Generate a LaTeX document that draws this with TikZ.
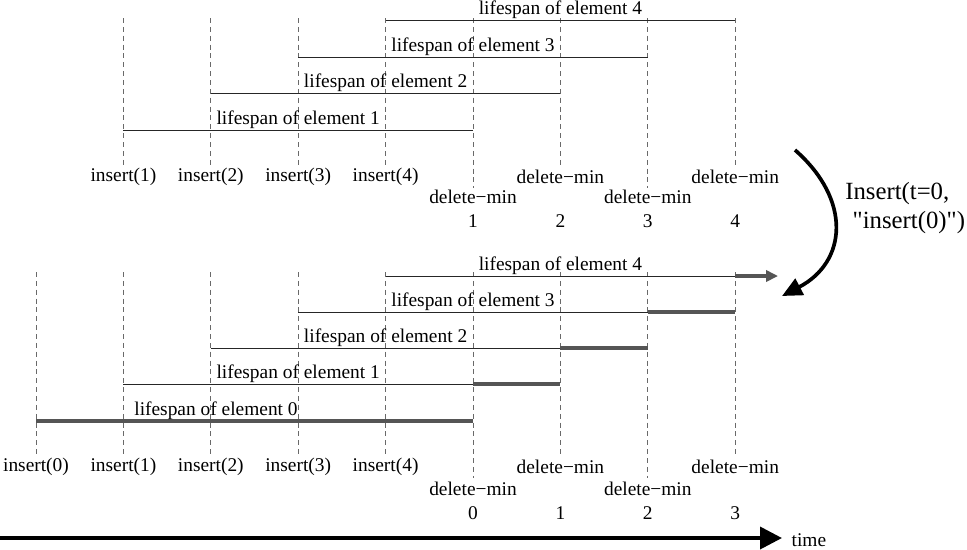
\documentclass[tikz,border=0pt]{standalone}
\usepackage{fontspec}
\setmainfont{Liberation Serif}
\usetikzlibrary{arrows.meta,positioning,calc}
\definecolor{guidegray}{RGB}{105,105,105}
\definecolor{extgray}{RGB}{85,85,85}
\tikzset{
  guide/.style={guidegray, dash pattern=on 3.5pt off 2.8pt, line width=0.5pt},
  life/.style={black!85, line width=0.7pt},
  ext/.style={extgray, line width=2.2pt},
  lbl/.style={font=\fontsize{13.8}{15}\selectfont, inner sep=1pt},
  biglbl/.style={font=\fontsize{17.6}{20.5}\selectfont, inner sep=0pt, align=left},
  timearr/.style={-{Triangle[length=5.5mm,width=5.5mm]}, line width=2.6pt},
  jumparr/.style={-{Triangle[length=5mm,width=4.5mm]}, line width=2.6pt},
  extarr/.style={-{Triangle[length=3mm,width=2.8mm]}, extgray, line width=2.2pt},
}
\begin{document}
\begin{tikzpicture}[x=0.025cm, y=-0.025cm]
  \useasboundingbox (0,0) rectangle (967,549);
  % time positions
  \foreach \i in {0,...,8}
    \coordinate (t\i) at ({36+87.4*\i},0);

  % upper chart
  \foreach \i/\e in {1/168,2/168,3/168,4/168,5/188,6/168,7/188,8/168}
    \draw[guide] (t\i |- 0,18) -- (t\i |- 0,\e);
  \foreach \k/\y [evaluate=\k as \e using int(\k+4)] in {1/130,2/93,3/57,4/20} {
    \draw[life] (t\k |- 0,\y) -- (t\e |- 0,\y);
    \node[lbl, anchor=south] (up\k) at ($(t\k)!0.5!(t\e)+(0,\y)$) {lifespan of element \k};
  }
  \foreach \i in {1,...,4}
    \node[lbl] (ins\i) at (t\i |- 0,177) {insert(\i)};
  \node[lbl] (del1) at (t5 |- 0,197) {delete−min};
  \node[lbl] (del2) at (t6 |- 0,177) {delete−min};
  \node[lbl] (del3) at (t7 |- 0,197) {delete−min};
  \node[lbl] (del4) at (t8 |- 0,177) {delete−min};
  \foreach \i [evaluate=\i as \j using int(\i+4)] in {1,...,4}
    \node[lbl] (num\i) at (t\j |- 0,221) {\i};

  % lower chart
  \foreach \i/\e in {0/457,1/457,2/457,3/457,4/457,5/478,6/457,7/478,8/457}
    \draw[guide] (t\i |- 0,272) -- (t\i |- 0,\e);
  \foreach \k/\y [evaluate=\k as \e using int(\k+4)] in {1/384,2/348,3/312,4/276} {
    \draw[life] (t\k |- 0,\y) -- (t\e |- 0,\y);
    \node[lbl, anchor=south] (lo\k) at ($(t\k)!0.5!(t\e)+(0,\y)$) {lifespan of element \k};
  }
  \foreach \k/\y [evaluate=\k as \s using int(\k+4), evaluate=\k as \e using int(\k+5)] in {1/384,2/348,3/312}
    \draw[ext] (t\s |- 0,\y) -- (t\e |- 0,\y);
  \coordinate (extend) at (778,276);
  \draw[extarr] (t8 |- 0,276) -- (extend);
  \draw[ext] (t0 |- 0,421) -- (t5 |- 0,421);
  \node[lbl, anchor=south] (lo0) at (216,421) {lifespan of element 0};
  \foreach \i in {0,...,4}
    \node[lbl] (insb\i) at (t\i |- 0,467) {insert(\i)};
  \node[lbl] (delb0) at (t5 |- 0,489) {delete−min};
  \node[lbl] (delb1) at (t6 |- 0,467) {delete−min};
  \node[lbl] (delb2) at (t7 |- 0,489) {delete−min};
  \node[lbl] (delb3) at (t8 |- 0,467) {delete−min};
  \foreach \i [evaluate=\i as \j using int(\i+5)] in {0,...,3}
    \node[lbl] (numb\i) at (t\j |- 0,513) {\i};

  % transformation arrow
  \coordinate (jfrom) at (795,150);
  \coordinate (jto) at (782,296);
  \draw[jumparr] (jfrom) .. controls (852,200) and (847,262) .. (jto);
  \node[biglbl, anchor=west] (op) at (845,208) {Insert(t=0,\\\hspace{0.3em}\textquotedbl insert(0)\textquotedbl)};

  % time axis
  \coordinate (tstart) at (0,538);
  \coordinate (tend) at (782,538);
  \draw[timearr] (tstart) -- (tend);
  \node[lbl, anchor=west] (time) at (790,540) {time};
\end{tikzpicture}
\end{document}
